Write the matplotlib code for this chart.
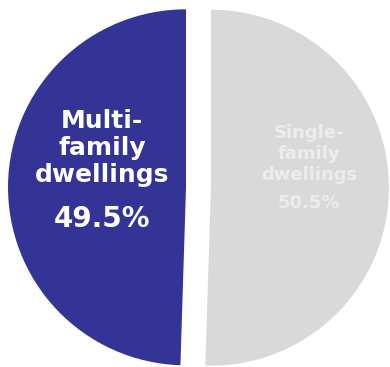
import matplotlib
matplotlib.use("Agg")
import matplotlib.pyplot as plt

categories = ["Multi-\nfamily\ndwellings", "Single-\nfamily\ndwellings"]
values = [49.5, 50.5]
pct_labels = ["49.5%", "50.5%"]
colors = ["#343496", "#d9d9d9"]

fig = plt.figure(figsize=(3.9, 3.67), dpi=100)
ax = fig.add_axes([0, 0, 1, 1])
ax.pie(values, colors=colors, startangle=90, counterclock=True,
       explode=[0.07, 0.07], radius=1.0, wedgeprops=dict(linewidth=0))
ax.set_xlim(-1.115, 1.076)
ax.set_ylim(-1.008, 1.053)
ax.axis("off")

fam = ["DejaVu Sans"]
ax.text(-0.542, 0.222, categories[0], ha="center", va="center", color="white",
        fontsize=18, fontweight="bold", family=fam, linespacing=1.15)
ax.text(-0.542, -0.177, pct_labels[0], ha="center", va="center", color="white",
        fontsize=20, fontweight="bold", family=fam)
ax.text(0.621, 0.188, categories[1], ha="center", va="center", color="#ececec",
        fontsize=13, fontweight="bold", family=fam, linespacing=1.2)
ax.text(0.621, -0.087, pct_labels[1], ha="center", va="center", color="#ececec",
        fontsize=13, fontweight="bold", family=fam)

fig.savefig("out.png", dpi=100)
